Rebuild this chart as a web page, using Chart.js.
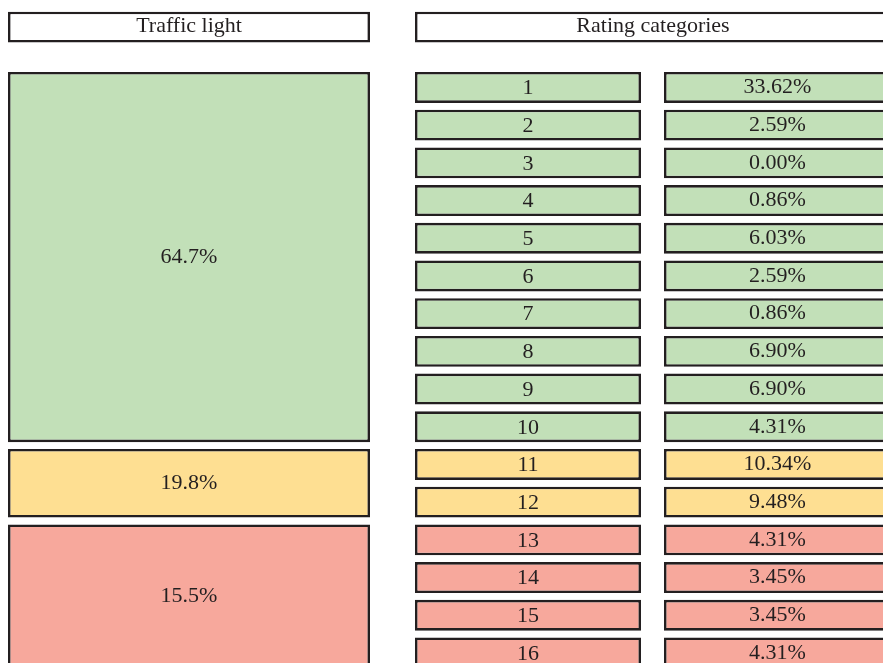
<!DOCTYPE html>
<html>
<head>
<meta charset="utf-8">
<script src="https://cdn.jsdelivr.net/npm/chart.js@4"></script>
<style>
  html, body { margin: 0; padding: 0; background: #fff; }
  #wrap { width: 883px; height: 663px; }
</style>
</head>
<body>
<div id="wrap"><canvas id="chart"></canvas></div>
<script>
const headers = ['Traffic light', 'Rating categories'];
const lights = ['green', 'yellow', 'red'];
const lightShares = [64.7, 19.8, 15.5];
const ratings = ['1', '2', '3', '4', '5', '6', '7', '8', '9', '10', '11', '12', '13', '14', '15', '16'];
const ratingShares = [33.62, 2.59, 0.00, 0.86, 6.03, 2.59, 0.86, 6.90, 6.90, 4.31, 10.34, 9.48, 4.31, 3.45, 3.45, 4.31];
const ratingLights = ['green', 'green', 'green', 'green', 'green', 'green', 'green', 'green', 'green', 'green',
  'yellow', 'yellow', 'red', 'red', 'red', 'red'];

const fills = { green: '#c2e0b8', yellow: '#fedf92', red: '#f7a89c' };
const ink = '#231f20';
const font = '22px "Liberation Serif", "Times New Roman", serif';

// layout: x runs in page pixels, y runs in rating rows (one row per unit)
const ROW_FILL = 0.82;
const HEAD_ROW = -1.6;
const cols = {
  light: { x: 189, w: 362 },
  rating: { x: 528, w: 226 },
  share: { x: 777.5, w: 227 },
  ratingHead: { x: 653, w: 476 }
};

// each traffic light box spans the rating rows that belong to it
const lightSpans = lights.map(l => [ratingLights.indexOf(l), ratingLights.lastIndexOf(l) + ROW_FILL]);

function column(col, spans, colors, texts, lift = 0) {
  return {
    data: spans.map(s => ({ x: col.x, y: s })),
    texts,
    lift,
    backgroundColor: colors,
    borderColor: ink,
    borderWidth: 2.6,
    borderSkipped: false,
    inflateAmount: 0,
    barThickness: col.w,
    grouped: false
  };
}

const rowSpans = ratings.map((r, i) => [i, i + ROW_FILL]);
const rowColors = ratingLights.map(l => fills[l]);

const boxLabels = {
  id: 'boxLabels',
  afterDatasetsDraw(chart) {
    const ctx = chart.ctx;
    ctx.save();
    ctx.font = font;
    ctx.fillStyle = ink;
    ctx.textAlign = 'center';
    ctx.textBaseline = 'middle';
    chart.data.datasets.forEach((ds, d) => {
      chart.getDatasetMeta(d).data.forEach((bar, i) => {
        const c = bar.getCenterPoint();
        ctx.fillText(ds.texts[i], c.x, c.y + 1 - ds.lift);
      });
    });
    ctx.restore();
  }
};

new Chart(document.getElementById('chart'), {
  type: 'bar',
  data: {
    datasets: [
      column(cols.light, [[HEAD_ROW, HEAD_ROW + ROW_FILL]], '#ffffff', [headers[0]], 2),
      column(cols.ratingHead, [[HEAD_ROW, HEAD_ROW + ROW_FILL]], '#ffffff', [headers[1]], 2),
      column(cols.light, lightSpans, lights.map(l => fills[l]), lightShares.map(v => v.toFixed(1) + '%'), 1),
      column(cols.rating, rowSpans, rowColors, ratings),
      column(cols.share, rowSpans, rowColors, ratingShares.map(v => v.toFixed(2) + '%'), 1)
    ]
  },
  options: {
    responsive: true,
    maintainAspectRatio: false,
    animation: false,
    layout: { padding: 0 },
    plugins: { legend: { display: false }, tooltip: { enabled: false } },
    scales: {
      x: { type: 'linear', display: false, offset: false, min: 0, max: 883 },
      y: { type: 'linear', display: false, reverse: true, min: -72 / 37.7, max: (663 - 72) / 37.7 }
    }
  },
  plugins: [boxLabels]
});
</script>
</body>
</html>
